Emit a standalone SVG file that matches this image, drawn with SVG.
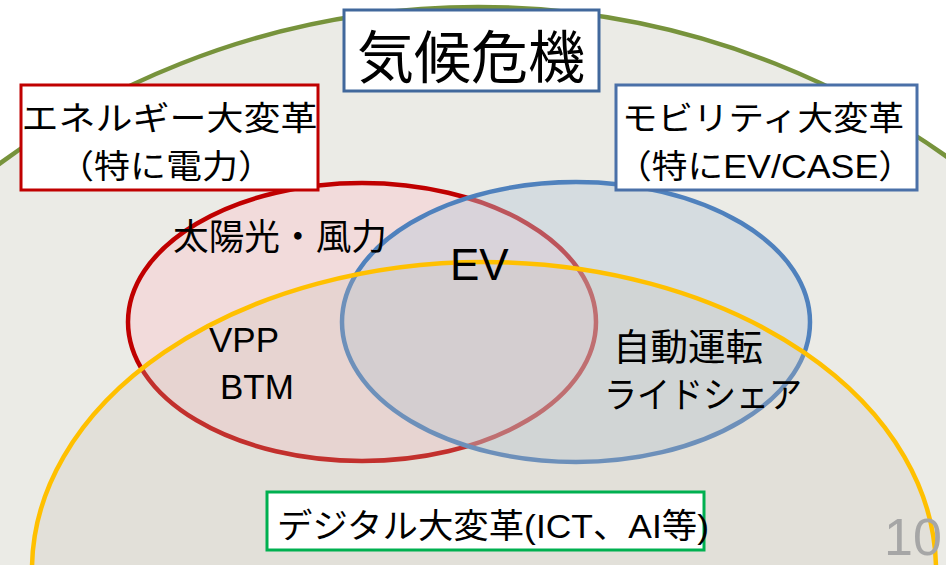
<svg xmlns="http://www.w3.org/2000/svg" width="946" height="565" viewBox="0 0 946 565">
<style>
.t{font-family:"Liberation Sans","Noto Sans CJK JP",sans-serif;fill:#000}
.box{fill:#fff;stroke-width:3}
.ell{stroke-width:4.5}
</style>
<rect width="946" height="565" fill="#fff"/>
<g id="climate-area">
<circle cx="478" cy="815" r="808" fill="#ebebe6" stroke="#77933c" stroke-width="4.5"/>
</g>
<g id="energy-circle">
<ellipse class="ell" cx="362" cy="322" rx="234" ry="139" fill="#f2dbdb" stroke="#c00000"/>
</g>
<g id="mobility-circle">
<ellipse class="ell" cx="576" cy="322" rx="234" ry="140" fill="#b8c8d8" fill-opacity="0.42" stroke="#4f81bd"/>
</g>
<g id="digital-circle">
<ellipse class="ell" cx="484" cy="570" rx="452" ry="308" fill="#c8beb4" fill-opacity="0.25" stroke="#ffc000"/>
</g>
<g id="connectors"/>
<g id="title">
<rect class="box" x="344" y="10" width="255" height="81" stroke="#41689c"/>
<text class="t" x="471" y="78" font-size="57" text-anchor="middle">気候危機</text>
</g>
<g id="energy-label">
<rect class="box" x="21" y="85" width="297" height="105" stroke="#c00000"/>
<text class="t" x="169.5" y="130" font-size="33" text-anchor="middle" textLength="296" lengthAdjust="spacingAndGlyphs">エネルギー大変革</text>
<text class="t" x="166" y="178" font-size="33" text-anchor="middle" textLength="216" lengthAdjust="spacingAndGlyphs">（特に電力）</text>
</g>
<g id="mobility-label">
<rect class="box" x="616" y="85" width="301" height="105" stroke="#4a70a8"/>
<text class="t" x="763" y="130" font-size="33" text-anchor="middle" textLength="282" lengthAdjust="spacingAndGlyphs">モビリティ大変革</text>
<text class="t" x="765" y="178" font-size="33" text-anchor="middle" textLength="298" lengthAdjust="spacingAndGlyphs">（特にEV/CASE）</text>
</g>
<g id="venn-texts">
<text class="t" x="280" y="250" font-size="36" text-anchor="middle" textLength="214" lengthAdjust="spacingAndGlyphs">太陽光・風力</text>
<text class="t" x="450" y="280" font-size="44">EV</text>
<text class="t" x="209" y="352" font-size="35">VPP</text>
<text class="t" x="220" y="399" font-size="35">BTM</text>
<text class="t" x="688" y="361" font-size="37" text-anchor="middle" textLength="150" lengthAdjust="spacingAndGlyphs">自動運転</text>
<text class="t" x="703" y="408" font-size="36" text-anchor="middle" textLength="198" lengthAdjust="spacingAndGlyphs">ライドシェア</text>
</g>
<g id="digital-label">
<rect class="box" x="267" y="492" width="437" height="58" stroke="#00b050"/>
<text class="t" x="277" y="538" font-size="34" textLength="432" lengthAdjust="spacingAndGlyphs">デジタル大変革(ICT、AI等)</text>
</g>
<g id="page-number">
<text x="884" y="555" font-size="52" font-family="Liberation Sans, sans-serif" fill="#a6a6a6">10</text>
</g>
</svg>
